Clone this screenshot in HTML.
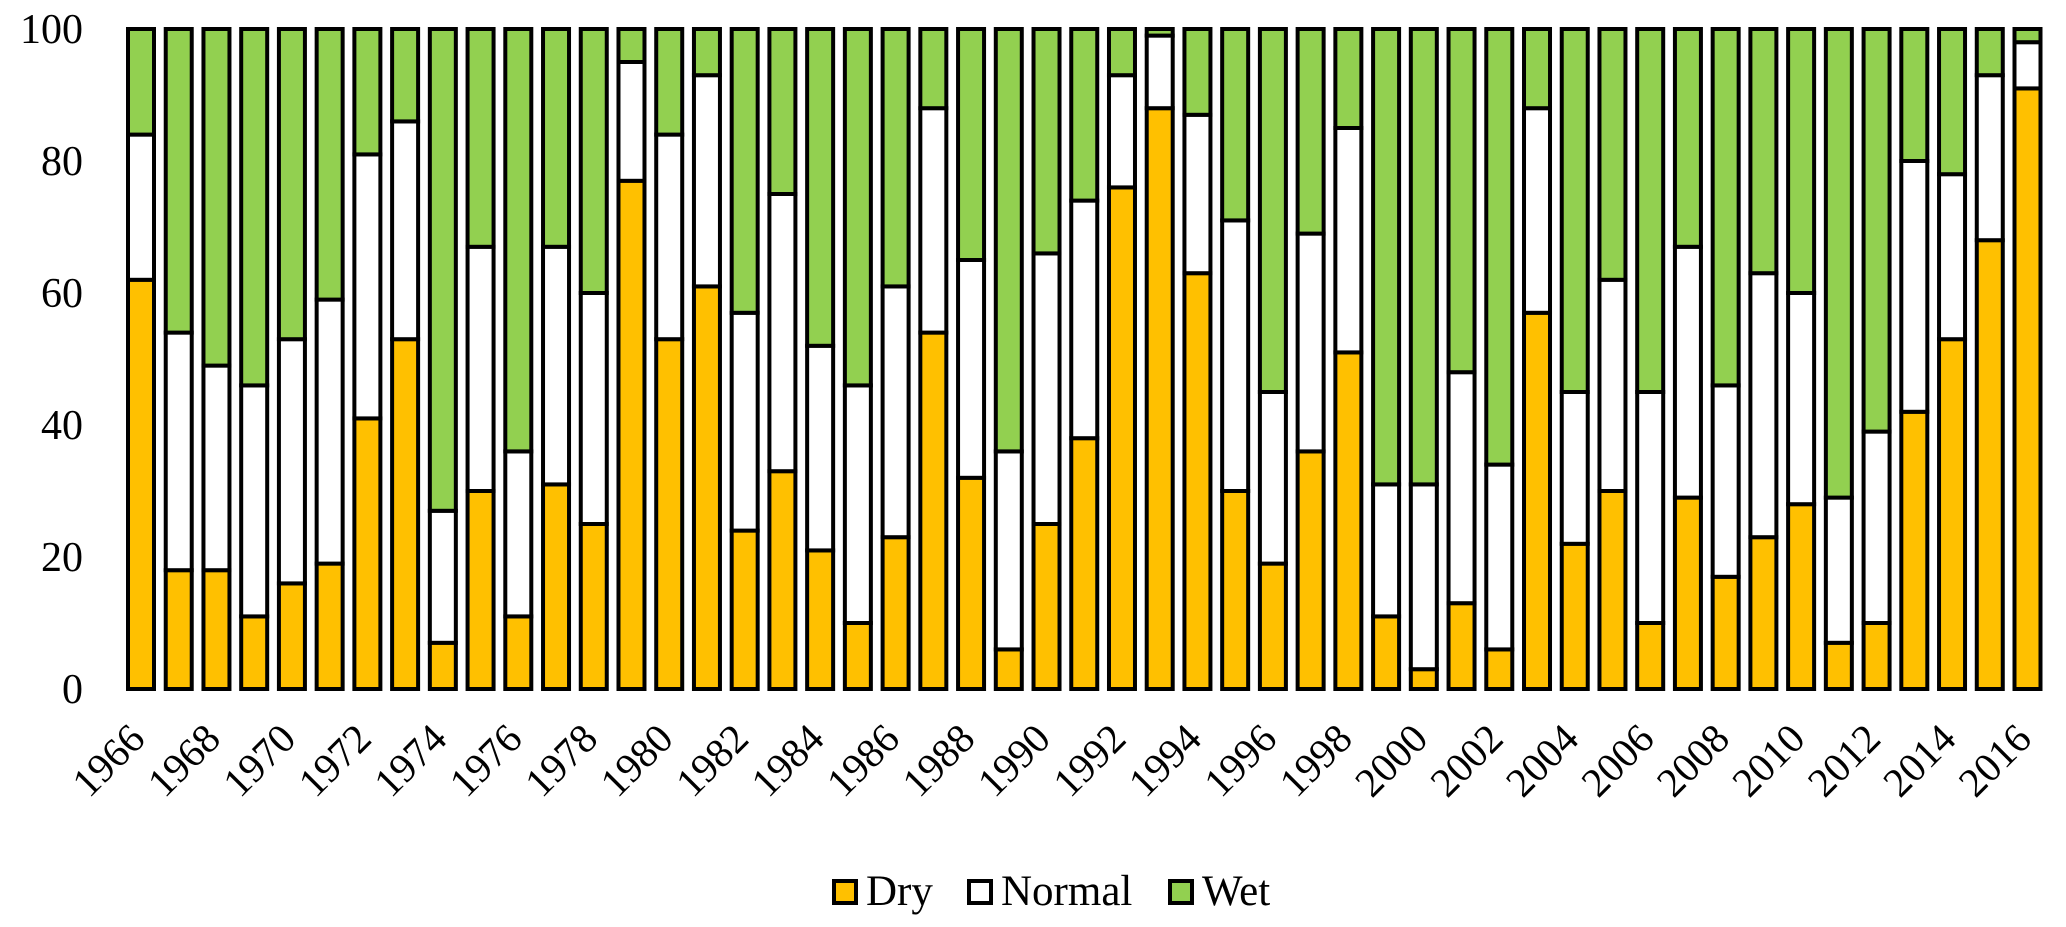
<!DOCTYPE html>
<html><head><meta charset="utf-8"><style>
body{margin:0;background:#fff;}
svg{display:block;font-family:"Liberation Serif",serif;}
</style></head><body>
<svg id="chart" width="2066" height="927" xmlns="http://www.w3.org/2000/svg"></svg>
<script>
const years = [];
for (let y = 1966; y <= 2016; y++) years.push(y);
const dryValues = [62,18,18,11,16,19,41,53,7,30,11,31,25,77,53,61,24,33,21,10,23,54,32,6,25,38,76,88,63,30,19,36,51,11,3,13,6,57,22,30,10,29,17,23,28,7,10,42,53,68,91];
const normalValues = [22,36,31,35,37,40,40,33,20,37,25,36,35,18,31,32,33,42,31,36,38,34,33,30,41,36,17,11,24,41,26,33,34,20,28,35,28,31,23,32,35,38,29,40,32,22,29,38,25,25,7];
const wetValues = [16,46,51,54,47,41,19,14,73,33,64,33,40,5,16,7,43,25,48,54,39,12,35,64,34,26,7,1,13,29,55,31,15,69,69,52,66,12,55,38,55,33,54,37,40,71,61,20,22,7,2];
const yTicks = [0,20,40,60,80,100];
const seriesNames = ["Dry","Normal","Wet"];
const seriesColors = ["#FFC000","#FFFFFF","#92D050"];

const NS = "http://www.w3.org/2000/svg";
const svg = document.getElementById("chart");
const x0 = 126, step = 37.73, barW = 30;
const yTop = 29, yBot = 689;
const yScale = v => yBot - (v/100)*(yBot - yTop);
const xScale = i => x0 + i*step;
function mk(tag, attrs){const e=document.createElementNS(NS,tag);for(const k in attrs)e.setAttribute(k,attrs[k]);svg.appendChild(e);return e;}

yTicks.forEach(t=>{
  const e = mk("text",{x:83,y:yScale(t)+14,"text-anchor":"end","font-size":"42"});
  e.textContent = t;
  
  
});

const series = [dryValues, normalValues, wetValues];
years.forEach((yr,i)=>{
  let cum = 0;
  series.forEach((vals,s)=>{
    const v = vals[i];
    const r = mk("rect",{x:xScale(i)+2,y:yScale(cum+v),width:barW-4,height:Math.max(0,yScale(cum)-yScale(cum+v)),fill:seriesColors[s],stroke:"#000","stroke-width":"4"});
    
    
    cum += v;
  });
  if (i % 2 === 0) {
    const cx = xScale(i)+barW/2+6, cy = 741;
    const t = mk("text",{x:cx,y:cy,"text-anchor":"end","font-size":"41",transform:`rotate(-45 ${cx} ${cy})`});
    t.textContent = yr;
    
    
  }
});

const legendX = [832, 967, 1168];
seriesNames.forEach((n,s)=>{
  const g = mk("rect",{x:legendX[s]+2,y:881,width:22,height:22,fill:seriesColors[s],stroke:"#000","stroke-width":"4"});
  
  
  const t = mk("text",{x:legendX[s]+34,y:905,"font-size":"43"});
  t.textContent = n;
  
  
});
</script>
</body></html>
